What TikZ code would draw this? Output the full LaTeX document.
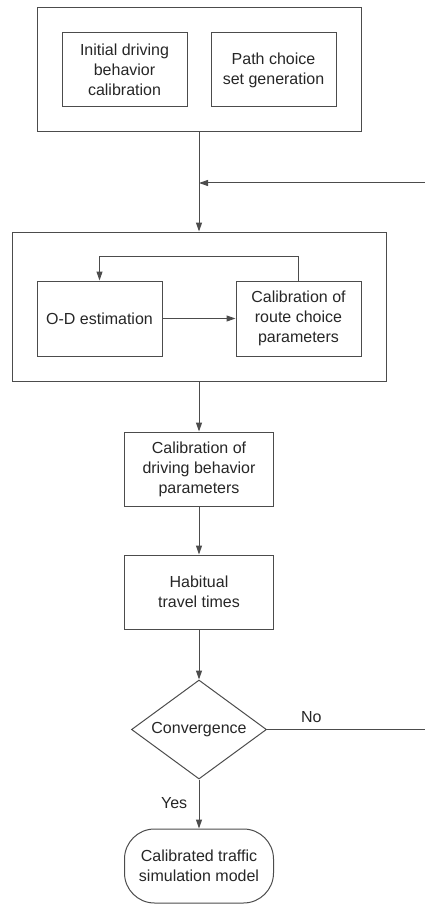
\documentclass[tikz,border=0pt]{standalone}
\usepackage{fontspec}
\setmainfont{Liberation Sans}
\usetikzlibrary{arrows.meta,shapes}

\begin{document}
\begin{tikzpicture}[x=1pt,y=-1pt,>={Triangle[length=9pt,width=6pt]},
box/.style={draw=black!70,line width=1pt,align=center,text=black!85,inner sep=0pt,font=\fontsize{16}{20}\selectfont},
conn/.style={draw=black!70,line width=1pt}]
\useasboundingbox (0,0) rectangle (425,904);
\node[box,minimum width=324pt,minimum height=124pt](prep) at (199,70){};
\node[box,minimum width=125pt,minimum height=74pt](init) at (124.5,70){Initial driving\\behavior\\calibration};
\node[box,minimum width=125pt,minimum height=74pt](pathset) at (273.5,70){Path choice\\set generation};
\node[box,minimum width=374pt,minimum height=149pt](est) at (199,306.5){};
\node[box,minimum width=125pt,minimum height=75pt](od) at (99.5,318.5){O-D estimation};
\node[box,minimum width=125pt,minimum height=75pt](route) at (298.5,318.5){Calibration of\\route choice\\parameters};
\node[box,minimum width=149pt,minimum height=74pt](drvpar) at (199,469){Calibration of\\driving behavior\\parameters};
\node[box,minimum width=149pt,minimum height=74pt](habit) at (199,592){Habitual\\travel times};
\node[box,diamond,aspect=1.4,minimum width=135pt,minimum height=99pt](conv) at (199,729.5){Convergence};
\node[box,rounded corners=30pt,minimum width=149pt,minimum height=74pt](model) at (199,866){Calibrated traffic\\simulation model};
\coordinate (noend) at (425,729.5);
\coordinate (back) at (425,183);
\draw[conn,->](prep.south)--(est.north);
\draw[conn,->](back)--(back-|prep.south);
\draw[conn,->](od)--(route);
\draw[conn,->](route.north)--++(0,-24)-|(od.north);
\draw[conn,->](est.south)--(drvpar.north);
\draw[conn,->](drvpar)--(habit);
\draw[conn,->](habit)--(conv);
\draw[conn,->](conv)--(model)node[pos=.48,left=8pt,text=black!85,font=\fontsize{16}{20}\selectfont]{Yes};
\draw[conn](conv.east)--(noend)node[pos=.28,above=3pt,text=black!85,font=\fontsize{16}{20}\selectfont]{No};
\end{tikzpicture}
\end{document}
